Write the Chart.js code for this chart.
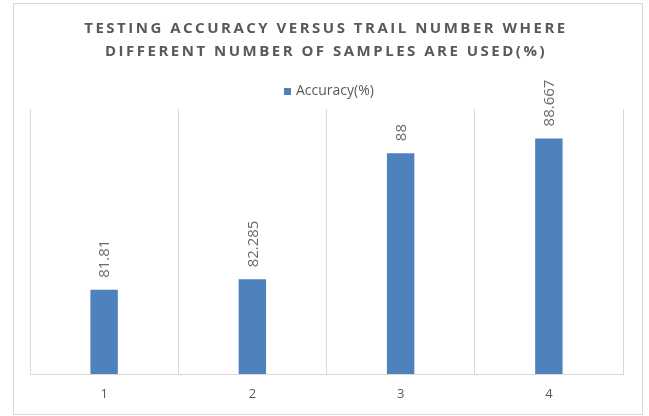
<!DOCTYPE html>
<html>
<head>
<meta charset="utf-8">
<style>
  html, body { margin: 0; padding: 0; background: #fff; overflow: hidden; }
  #wrap { width: 649px; height: 416px; position: relative; }
</style>
</head>
<body>
<div id="wrap"><canvas id="myChart"></canvas></div>
<script src="https://cdn.jsdelivr.net/npm/chart.js"></script>
<script>
  // chart data
  const categories = ['1', '2', '3', '4'];
  const accuracy = [81.81, 82.285, 88, 88.667];
  const seriesName = 'Accuracy(%)';
  const titleLines = ['TESTING ACCURACY VERSUS TRAIL NUMBER WHERE', 'DIFFERENT NUMBER OF SAMPLES ARE USED(%)'];
  const yMin = 78;
  const yMax = 90;

  const barColor = '#4f81bd';
  const textColor = '#595959';

  // border, title and legend, drawn like the Excel chart
  const frame = {
    id: 'frame',
    beforeDraw(chart) {
      const ctx = chart.ctx;
      ctx.save();
      ctx.strokeStyle = '#d9d9d9';
      ctx.lineWidth = 1;
      ctx.strokeRect(13.5, 3.5, 629, 411);
      ctx.restore();
    },
    afterDraw(chart) {
      const ctx = chart.ctx;
      ctx.save();
      ctx.fillStyle = textColor;
      ctx.font = 'bold 15px "Open Sans"';
      ctx.letterSpacing = '2.5px';
      ctx.textAlign = 'center';
      ctx.textBaseline = 'middle';
      ctx.fillText(titleLines[0], 326, 29);
      ctx.fillText(titleLines[1], 326, 52);
      ctx.letterSpacing = '0px';
      // legend
      ctx.fillStyle = barColor;
      ctx.fillRect(284, 88, 7, 7);
      ctx.fillStyle = textColor;
      ctx.font = '14px "Open Sans"';
      ctx.textAlign = 'left';
      ctx.fillText(seriesName, 296, 91);
      ctx.restore();
    }
  };

  // rotated value labels above each bar
  const barLabels = {
    id: 'barLabels',
    afterDatasetsDraw(chart) {
      const ctx = chart.ctx;
      const meta = chart.getDatasetMeta(0);
      ctx.save();
      ctx.fillStyle = '#6b6b6b';
      ctx.font = '15px "Open Sans"';
      ctx.textAlign = 'left';
      ctx.textBaseline = 'middle';
      meta.data.forEach(function (bar, i) {
        ctx.save();
        ctx.translate(bar.x + 1, bar.y - 12);
        ctx.rotate(-Math.PI / 2);
        ctx.fillText(String(accuracy[i]), 0, 0);
        ctx.restore();
      });
      ctx.restore();
    }
  };

  const ctx = document.getElementById('myChart').getContext('2d');
  const chart = new Chart(ctx, {
    type: 'bar',
    data: {
      labels: categories,
      datasets: [{
        label: seriesName,
        data: accuracy,
        backgroundColor: barColor,
        borderWidth: 0,
        barPercentage: 0.185,
        categoryPercentage: 1
      }]
    },
    options: {
      responsive: true,
      maintainAspectRatio: false,
      animation: false,
      layout: { padding: { left: 30, right: 26, top: 109, bottom: 0 } },
      plugins: {
        legend: { display: false },
        title: { display: false },
        tooltip: { enabled: false }
      },
      scales: {
        x: {
          afterFit: function (scale) { scale.height = 42; },
          grid: { offset: true, color: '#d9d9d9', drawTicks: false },
          border: { color: '#d9d9d9' },
          ticks: { padding: 12, color: textColor, font: { family: 'Open Sans', size: 13 } }
        },
        y: {
          display: false,
          min: yMin,
          max: yMax
        }
      }
    },
    plugins: [frame, barLabels]
  });
</script>
</body>
</html>
